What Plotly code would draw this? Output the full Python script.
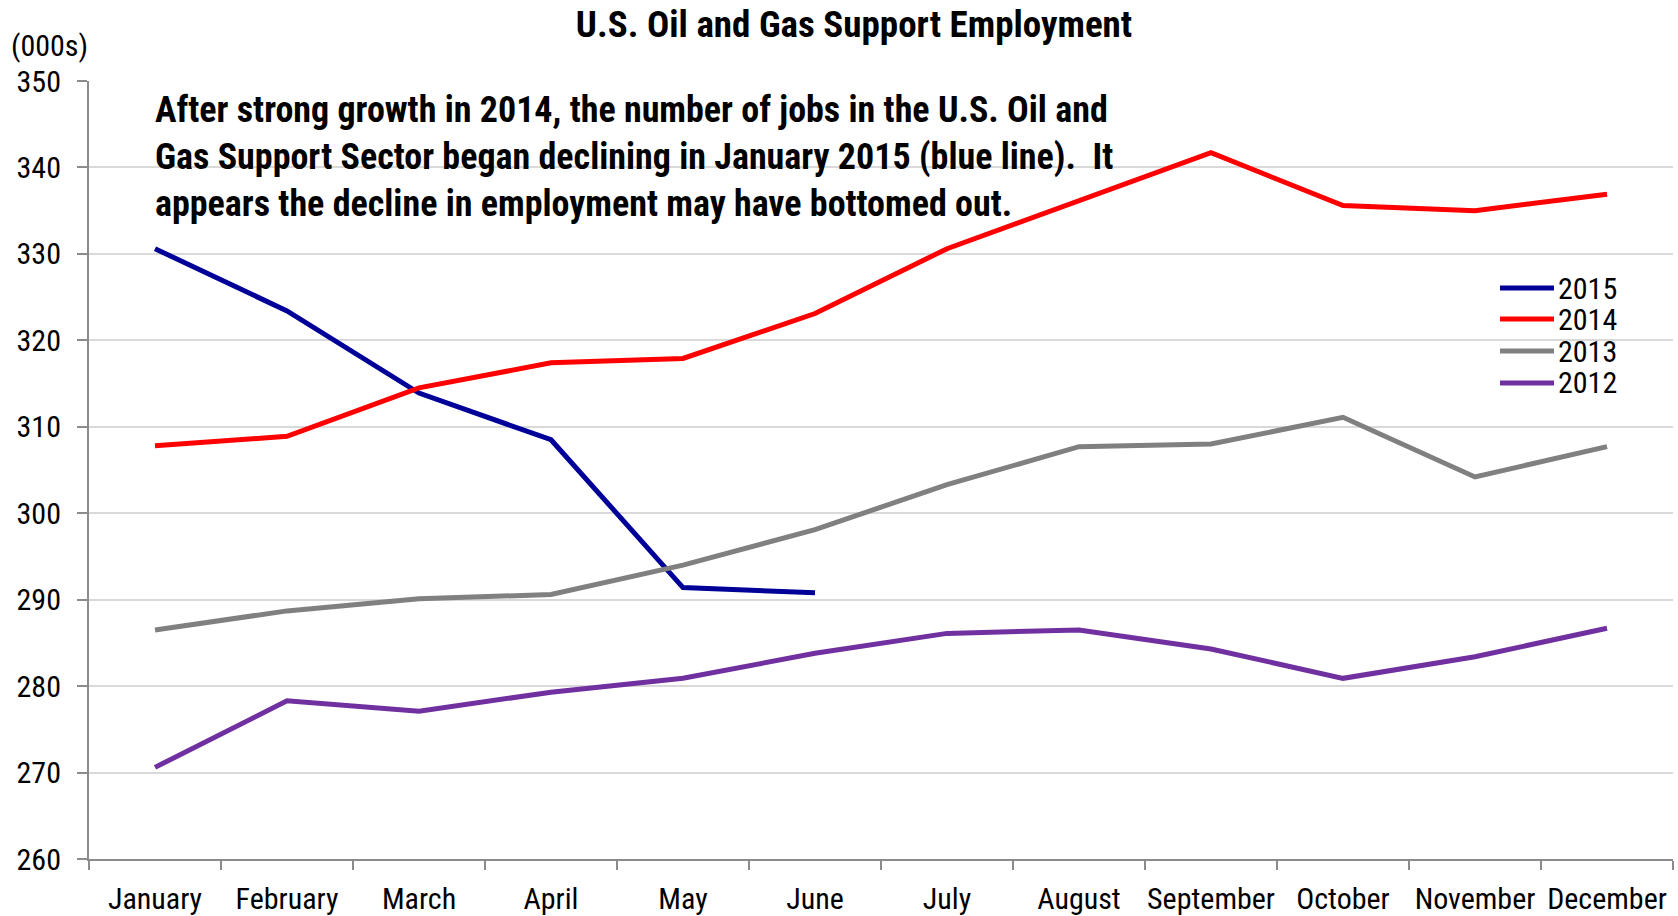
import plotly.graph_objects as go

# Monthly employment, U.S. oil and gas support activities (thousands)
months = ["January", "February", "March", "April", "May", "June",
          "July", "August", "September", "October", "November", "December"]

emp_2015 = [330.6, 323.4, 313.9, 308.5, 291.4, 290.8]
emp_2014 = [307.8, 308.9, 314.5, 317.4, 317.9, 323.1,
            330.6, 336.1, 341.7, 335.6, 335.0, 336.9]
emp_2013 = [286.5, 288.7, 290.1, 290.6, 294.0, 298.1,
            303.3, 307.7, 308.0, 311.1, 304.2, 307.7]
emp_2012 = [270.6, 278.3, 277.1, 279.3, 280.9, 283.8,
            286.1, 286.5, 284.3, 280.9, 283.4, 286.7]

series = [
    ("2015", emp_2015, "#000099"),
    ("2014", emp_2014, "#FF0000"),
    ("2013", emp_2013, "#808080"),
    ("2012", emp_2012, "#7030A0"),
]

y_ticks = [260, 270, 280, 290, 300, 310, 320, 330, 340, 350]

FONT = "Roboto Condensed, Liberation Sans Narrow, Arial Narrow, sans-serif"
W, H = 1678, 916
L, R, T, B = 89, 5, 81, 57
PW, PH = W - L - R, H - T - B


def px_x(x):
    return (x - L) / PW


def px_y(y):
    return (H - B - y) / PH


fig = go.Figure()
for name, vals, color in series:
    fig.add_trace(go.Scatter(
        x=months[:len(vals)], y=vals, name=name, mode="lines",
        line=dict(color=color, width=5), showlegend=False,
    ))

# Legend drawn as short line samples with labels
legend_rows = [288, 319, 351, 383]
for (name, _, color), row in zip(series, legend_rows):
    fig.add_shape(type="line", xref="paper", yref="paper",
                  x0=px_x(1500), x1=px_x(1554), y0=px_y(row), y1=px_y(row),
                  line=dict(color=color, width=5))
    fig.add_annotation(xref="paper", yref="paper", x=px_x(1556), y=px_y(row),
                       text=name, showarrow=False, xanchor="left",
                       yanchor="middle",
                       font=dict(family=FONT, size=30, color="black"))

fig.add_annotation(
    xref="paper", yref="paper", x=px_x(153), y=px_y(157),
    xanchor="left", yanchor="middle", align="left", showarrow=False,
    text=("<b>After strong growth in 2014, the number of jobs in the U.S. Oil and<br>"
          "Gas Support Sector began declining in January 2015 (blue line).  It<br>"
          "appears the decline in employment may have bottomed out.</b>"),
    font=dict(family=FONT, size=36, color="black"),
)

fig.add_annotation(
    xref="paper", yref="paper", x=px_x(9), y=px_y(46),
    xanchor="left", yanchor="middle", showarrow=False,
    text="(000s)", font=dict(family=FONT, size=30, color="black"),
)

fig.update_layout(
    width=W, height=H,
    margin=dict(l=L, r=R, t=T, b=B),
    paper_bgcolor="white", plot_bgcolor="white",
    font=dict(family=FONT, size=30, color="black"),
    title=dict(text="<b>U.S. Oil and Gas Support Employment</b>",
               x=854 / W, xanchor="center", y=1 - 24 / H, yanchor="middle",
               font=dict(family=FONT, size=37, color="black")),
)

fig.update_xaxes(
    type="category", categoryorder="array", categoryarray=months,
    range=[-0.5, 11.5], tickson="boundaries", tickangle=0, automargin=False,
    ticks="outside", ticklen=9, tickcolor="#8C8C8C", tickwidth=1.5,
    showline=True, linecolor="#8C8C8C", linewidth=2,
    showgrid=False, ticklabelstandoff=12,
    tickfont=dict(family=FONT, size=30, color="black"),
)
fig.update_yaxes(
    range=[260, 350], tickvals=y_ticks, automargin=False,
    ticks="outside", ticklen=10, tickcolor="#8C8C8C", tickwidth=1.5,
    showline=True, linecolor="#8C8C8C", linewidth=2,
    showgrid=True, gridcolor="#D9D9D9", gridwidth=2,
    zeroline=False, ticklabelstandoff=10,
    tickfont=dict(family=FONT, size=30, color="black"),
)

fig.write_html("out.html")
